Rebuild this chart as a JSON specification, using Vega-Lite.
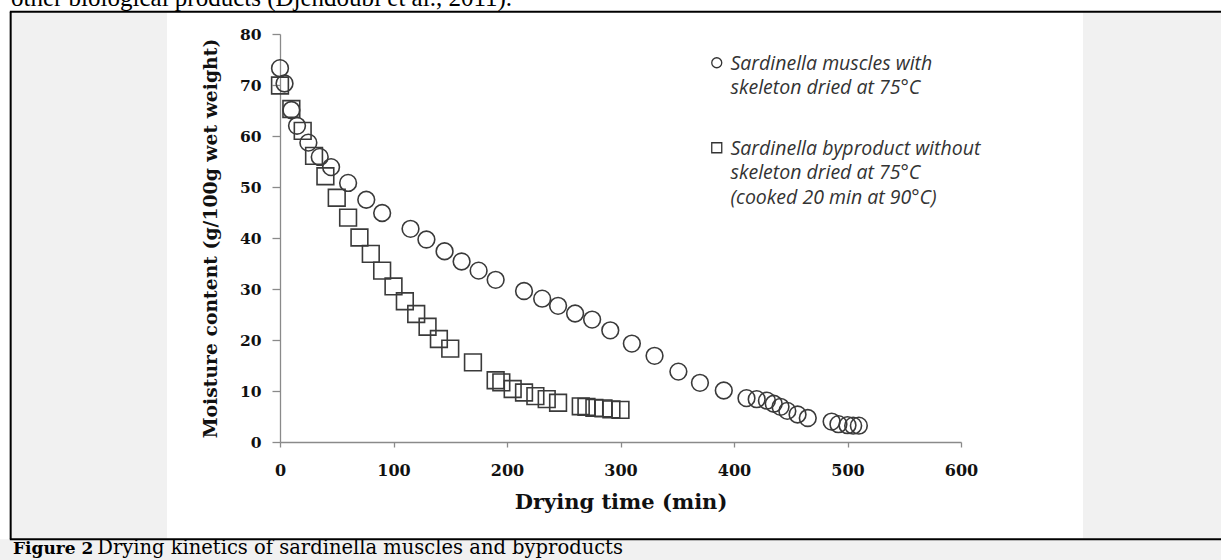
{
  "$schema": "https://vega.github.io/schema/vega-lite/v6.json",
  "width": 681,
  "height": 408,
  "autosize": {"type": "none"},
  "padding": {"left": 280, "top": 34, "right": 260, "bottom": 118},
  "background": "#ffffff",
  "config": {
    "view": {"stroke": null},
    "axis": {
      "grid": false,
      "domainColor": "#8a8a8a",
      "tickColor": "#8a8a8a",
      "domainWidth": 1.3,
      "tickWidth": 1.3,
      "labelFont": "DejaVu Serif",
      "labelFontWeight": "bold",
      "labelColor": "#111111",
      "labelFlush": false,
      "labelOverlap": false,
      "titleFont": "DejaVu Serif",
      "titleFontWeight": "bold",
      "titleColor": "#111111"
    },
    "axisX": {"tickSize": 5, "labelPadding": 15, "labelFontSize": 16, "titleFontSize": 21, "titlePadding": 13},
    "axisY": {"tickSize": 8, "labelPadding": 11, "labelFontSize": 15.5, "titleFontSize": 18.8, "titlePadding": 19}
  },
  "layer": [
    {
      "data": {
        "values": [
          {"sample": "Sardinella muscles with skeleton dried at 75°C", "time": 0, "moisture": 73.3},
          {"sample": "Sardinella muscles with skeleton dried at 75°C", "time": 4, "moisture": 70.3},
          {"sample": "Sardinella muscles with skeleton dried at 75°C", "time": 10, "moisture": 65.1},
          {"sample": "Sardinella muscles with skeleton dried at 75°C", "time": 15, "moisture": 62.0},
          {"sample": "Sardinella muscles with skeleton dried at 75°C", "time": 25, "moisture": 58.7},
          {"sample": "Sardinella muscles with skeleton dried at 75°C", "time": 35, "moisture": 55.9},
          {"sample": "Sardinella muscles with skeleton dried at 75°C", "time": 45, "moisture": 53.9},
          {"sample": "Sardinella muscles with skeleton dried at 75°C", "time": 60, "moisture": 50.8},
          {"sample": "Sardinella muscles with skeleton dried at 75°C", "time": 76, "moisture": 47.5},
          {"sample": "Sardinella muscles with skeleton dried at 75°C", "time": 90, "moisture": 44.9},
          {"sample": "Sardinella muscles with skeleton dried at 75°C", "time": 115, "moisture": 41.8},
          {"sample": "Sardinella muscles with skeleton dried at 75°C", "time": 129, "moisture": 39.7},
          {"sample": "Sardinella muscles with skeleton dried at 75°C", "time": 145, "moisture": 37.4},
          {"sample": "Sardinella muscles with skeleton dried at 75°C", "time": 160, "moisture": 35.4},
          {"sample": "Sardinella muscles with skeleton dried at 75°C", "time": 175, "moisture": 33.6},
          {"sample": "Sardinella muscles with skeleton dried at 75°C", "time": 190, "moisture": 31.8},
          {"sample": "Sardinella muscles with skeleton dried at 75°C", "time": 215, "moisture": 29.6},
          {"sample": "Sardinella muscles with skeleton dried at 75°C", "time": 231, "moisture": 28.1},
          {"sample": "Sardinella muscles with skeleton dried at 75°C", "time": 245, "moisture": 26.7},
          {"sample": "Sardinella muscles with skeleton dried at 75°C", "time": 260, "moisture": 25.2},
          {"sample": "Sardinella muscles with skeleton dried at 75°C", "time": 275, "moisture": 24.0},
          {"sample": "Sardinella muscles with skeleton dried at 75°C", "time": 291, "moisture": 21.9},
          {"sample": "Sardinella muscles with skeleton dried at 75°C", "time": 310, "moisture": 19.3},
          {"sample": "Sardinella muscles with skeleton dried at 75°C", "time": 330, "moisture": 16.9},
          {"sample": "Sardinella muscles with skeleton dried at 75°C", "time": 351, "moisture": 13.8},
          {"sample": "Sardinella muscles with skeleton dried at 75°C", "time": 370, "moisture": 11.6},
          {"sample": "Sardinella muscles with skeleton dried at 75°C", "time": 391, "moisture": 10.1},
          {"sample": "Sardinella muscles with skeleton dried at 75°C", "time": 411, "moisture": 8.6},
          {"sample": "Sardinella muscles with skeleton dried at 75°C", "time": 420, "moisture": 8.4},
          {"sample": "Sardinella muscles with skeleton dried at 75°C", "time": 429, "moisture": 8.1},
          {"sample": "Sardinella muscles with skeleton dried at 75°C", "time": 435, "moisture": 7.5},
          {"sample": "Sardinella muscles with skeleton dried at 75°C", "time": 441, "moisture": 6.9},
          {"sample": "Sardinella muscles with skeleton dried at 75°C", "time": 447, "moisture": 6.1},
          {"sample": "Sardinella muscles with skeleton dried at 75°C", "time": 456, "moisture": 5.4},
          {"sample": "Sardinella muscles with skeleton dried at 75°C", "time": 465, "moisture": 4.7},
          {"sample": "Sardinella muscles with skeleton dried at 75°C", "time": 486, "moisture": 4.0},
          {"sample": "Sardinella muscles with skeleton dried at 75°C", "time": 492, "moisture": 3.5},
          {"sample": "Sardinella muscles with skeleton dried at 75°C", "time": 500, "moisture": 3.3},
          {"sample": "Sardinella muscles with skeleton dried at 75°C", "time": 505, "moisture": 3.2},
          {"sample": "Sardinella muscles with skeleton dried at 75°C", "time": 510, "moisture": 3.2},
          {"sample": "Sardinella byproduct without skeleton dried at 75°C (cooked 20 min at 90°C)", "time": 0, "moisture": 69.9},
          {"sample": "Sardinella byproduct without skeleton dried at 75°C (cooked 20 min at 90°C)", "time": 10, "moisture": 65.3},
          {"sample": "Sardinella byproduct without skeleton dried at 75°C (cooked 20 min at 90°C)", "time": 20, "moisture": 61.0},
          {"sample": "Sardinella byproduct without skeleton dried at 75°C (cooked 20 min at 90°C)", "time": 30, "moisture": 56.1},
          {"sample": "Sardinella byproduct without skeleton dried at 75°C (cooked 20 min at 90°C)", "time": 40, "moisture": 52.1},
          {"sample": "Sardinella byproduct without skeleton dried at 75°C (cooked 20 min at 90°C)", "time": 50, "moisture": 47.9},
          {"sample": "Sardinella byproduct without skeleton dried at 75°C (cooked 20 min at 90°C)", "time": 60, "moisture": 44.0},
          {"sample": "Sardinella byproduct without skeleton dried at 75°C (cooked 20 min at 90°C)", "time": 70, "moisture": 40.1},
          {"sample": "Sardinella byproduct without skeleton dried at 75°C (cooked 20 min at 90°C)", "time": 80, "moisture": 36.9},
          {"sample": "Sardinella byproduct without skeleton dried at 75°C (cooked 20 min at 90°C)", "time": 90, "moisture": 33.6},
          {"sample": "Sardinella byproduct without skeleton dried at 75°C (cooked 20 min at 90°C)", "time": 100, "moisture": 30.5},
          {"sample": "Sardinella byproduct without skeleton dried at 75°C (cooked 20 min at 90°C)", "time": 110, "moisture": 27.6},
          {"sample": "Sardinella byproduct without skeleton dried at 75°C (cooked 20 min at 90°C)", "time": 120, "moisture": 25.1},
          {"sample": "Sardinella byproduct without skeleton dried at 75°C (cooked 20 min at 90°C)", "time": 130, "moisture": 22.6},
          {"sample": "Sardinella byproduct without skeleton dried at 75°C (cooked 20 min at 90°C)", "time": 140, "moisture": 20.2},
          {"sample": "Sardinella byproduct without skeleton dried at 75°C (cooked 20 min at 90°C)", "time": 150, "moisture": 18.3},
          {"sample": "Sardinella byproduct without skeleton dried at 75°C (cooked 20 min at 90°C)", "time": 170, "moisture": 15.6},
          {"sample": "Sardinella byproduct without skeleton dried at 75°C (cooked 20 min at 90°C)", "time": 190, "moisture": 12.1},
          {"sample": "Sardinella byproduct without skeleton dried at 75°C (cooked 20 min at 90°C)", "time": 195, "moisture": 11.7},
          {"sample": "Sardinella byproduct without skeleton dried at 75°C (cooked 20 min at 90°C)", "time": 205, "moisture": 10.4},
          {"sample": "Sardinella byproduct without skeleton dried at 75°C (cooked 20 min at 90°C)", "time": 215, "moisture": 9.7},
          {"sample": "Sardinella byproduct without skeleton dried at 75°C (cooked 20 min at 90°C)", "time": 225, "moisture": 9.0},
          {"sample": "Sardinella byproduct without skeleton dried at 75°C (cooked 20 min at 90°C)", "time": 235, "moisture": 8.4},
          {"sample": "Sardinella byproduct without skeleton dried at 75°C (cooked 20 min at 90°C)", "time": 245, "moisture": 7.7},
          {"sample": "Sardinella byproduct without skeleton dried at 75°C (cooked 20 min at 90°C)", "time": 265, "moisture": 7.0},
          {"sample": "Sardinella byproduct without skeleton dried at 75°C (cooked 20 min at 90°C)", "time": 270, "moisture": 6.9},
          {"sample": "Sardinella byproduct without skeleton dried at 75°C (cooked 20 min at 90°C)", "time": 277, "moisture": 6.7},
          {"sample": "Sardinella byproduct without skeleton dried at 75°C (cooked 20 min at 90°C)", "time": 285, "moisture": 6.6},
          {"sample": "Sardinella byproduct without skeleton dried at 75°C (cooked 20 min at 90°C)", "time": 292, "moisture": 6.4},
          {"sample": "Sardinella byproduct without skeleton dried at 75°C (cooked 20 min at 90°C)", "time": 300, "moisture": 6.3}
        ]
      },
      "mark": {"type": "point", "filled": false, "stroke": "#3a3a3a", "strokeWidth": 1.6, "opacity": 1, "size": 280},
      "encoding": {
        "x": {
          "field": "time", "type": "quantitative",
          "scale": {"domain": [0, 600]},
          "axis": {"values": [0, 100, 200, 300, 400, 500, 600], "title": "Drying time (min)"}
        },
        "y": {
          "field": "moisture", "type": "quantitative",
          "scale": {"domain": [0, 80]},
          "axis": {"values": [0, 10, 20, 30, 40, 50, 60, 70, 80], "title": "Moisture content (g/100g wet weight)"}
        },
        "shape": {
          "field": "sample", "type": "nominal",
          "scale": {
            "domain": ["Sardinella muscles with skeleton dried at 75°C", "Sardinella byproduct without skeleton dried at 75°C (cooked 20 min at 90°C)"],
            "range": ["circle", "square"]
          },
          "legend": {
            "orient": "none",
            "legendX": 427,
            "legendY": 19,
            "title": null,
            "padding": 0,
            "labelFont": "Open Sans",
            "labelFontStyle": "italic",
            "labelFontSize": 19.5,
            "labelColor": "#333333",
            "labelLimit": 600,
            "labelOffset": 4,
            "labelBaseline": "alphabetic",
            "rowPadding": 40,
            "symbolSize": 100,
            "symbolStrokeWidth": 1.3,
            "symbolStrokeColor": "#333333",
            "symbolFillColor": "transparent",
            "labelExpr": "datum.label == 'Sardinella muscles with skeleton dried at 75°C' ? ['Sardinella muscles with', 'skeleton dried at 75°C'] : ['Sardinella byproduct without', 'skeleton dried at 75°C', '(cooked 20 min at 90°C)']",
            "encoding": {"labels": {"dy": {"value": 7}, "lineHeight": {"value": 24.5}}}
          }
        }
      }
    },
    {
      "data": {"values": [{}]},
      "mark": {"type": "rect", "color": "#f1f1f1"},
      "encoding": {
        "x": {"datum": -238, "type": "quantitative"},
        "x2": {"datum": -99.6},
        "y": {"datum": 84.2, "type": "quantitative"},
        "y2": {"datum": -18.9}
      }
    },
    {
      "data": {"values": [{}]},
      "mark": {"type": "rect", "color": "#f1f1f1"},
      "encoding": {
        "x": {"datum": 707.5, "type": "quantitative"},
        "x2": {"datum": 840},
        "y": {"datum": 84.2, "type": "quantitative"},
        "y2": {"datum": -18.9}
      }
    },
    {
      "data": {"values": [{}]},
      "mark": {"type": "rect", "color": "#f1f1f1"},
      "encoding": {
        "x": {"datum": -250, "type": "quantitative"},
        "x2": {"datum": 840},
        "y": {"datum": -19.08, "type": "quantitative"},
        "y2": {"datum": -30}
      }
    },
    {
      "data": {"values": [{}]},
      "mark": {"type": "text", "text": "other biological products (Djendoubi et al., 2011).", "align": "left", "baseline": "alphabetic", "font": "Liberation Serif", "fontSize": 25, "color": "#000000"},
      "encoding": {
        "x": {"datum": -237, "type": "quantitative"},
        "y": {"datum": 85.5, "type": "quantitative"}
      }
    },
    {
      "data": {"values": [{}]},
      "mark": {"type": "rule", "color": "#000000", "strokeWidth": 2},
      "encoding": {
        "x": {"datum": -238, "type": "quantitative"},
        "x2": {"datum": 840},
        "y": {"datum": 84.37, "type": "quantitative"}
      }
    },
    {
      "data": {"values": [{}]},
      "mark": {"type": "rule", "color": "#000000", "strokeWidth": 2},
      "encoding": {
        "x": {"datum": -238, "type": "quantitative"},
        "x2": {"datum": 840},
        "y": {"datum": -19.08, "type": "quantitative"}
      }
    },
    {
      "data": {"values": [{}]},
      "mark": {"type": "rule", "color": "#000000", "strokeWidth": 2},
      "encoding": {
        "x": {"datum": -237.3, "type": "quantitative"},
        "y": {"datum": 84.37, "type": "quantitative"},
        "y2": {"datum": -19.08}
      }
    },
    {
      "data": {"values": [{}]},
      "mark": {"type": "text", "text": "Figure 2", "align": "left", "baseline": "alphabetic", "font": "DejaVu Serif", "fontWeight": "bold", "fontSize": 17, "color": "#000000"},
      "encoding": {
        "x": {"datum": -235.2, "type": "quantitative"},
        "y": {"datum": -21.96, "type": "quantitative"}
      }
    },
    {
      "data": {"values": [{}]},
      "mark": {"type": "text", "text": "Drying kinetics of sardinella muscles and byproducts", "align": "left", "baseline": "alphabetic", "font": "DejaVu Serif", "fontSize": 19.5, "color": "#000000"},
      "encoding": {
        "x": {"datum": -161, "type": "quantitative"},
        "y": {"datum": -21.96, "type": "quantitative"}
      }
    }
  ]
}
